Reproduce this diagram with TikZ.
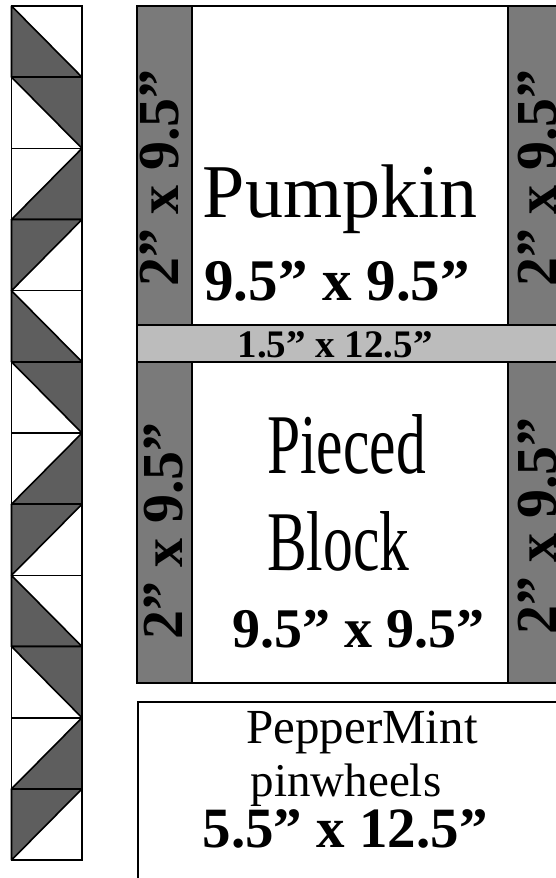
\documentclass[tikz,border=0pt]{standalone}
\usepackage{fontspec}
\setmainfont{Liberation Serif}
\definecolor{tri}{HTML}{5E5E5E}
\definecolor{strip}{HTML}{7A7A7A}
\definecolor{bar}{HTML}{BCBCBC}
\tikzset{
  edge/.style={draw=black, line width=1.6pt},
  sidetxt/.style={rotate=90, anchor=base, inner sep=0pt, font=\fontsize{58}{58}\selectfont\bfseries},
  lbl/.style={anchor=base, inner sep=0pt}
}
\begin{document}
\begin{tikzpicture}[x=1pt,y=-1pt]
\useasboundingbox (0,0) rectangle (556,878);
\fill[white] (0,0) rectangle (556,878);
% left strip of half-square triangles
\foreach \i in {0,...,11}{
  \pgfmathsetmacro{\t}{6+\i*71.17}
  \pgfmathsetmacro{\b}{6+(\i+1)*71.17}
  \pgfmathtruncatemacro{\k}{mod(\i,4)}
  \ifcase\k
    \filldraw[fill=tri, edge, line join=round] (11.5,\t) -- (11.5,\b) -- (82,\b) -- cycle;
  \or
    \filldraw[fill=tri, edge, line join=round] (11.5,\t) -- (82,\t) -- (82,\b) -- cycle;
  \or
    \filldraw[fill=tri, edge, line join=round] (11.5,\b) -- (82,\b) -- (82,\t) -- cycle;
  \or
    \filldraw[fill=tri, edge, line join=round] (11.5,\t) -- (82,\t) -- (11.5,\b) -- cycle;
  \fi
  \draw[edge] (11.5,\t) rectangle (82,\b);
}
% top block
\filldraw[fill=strip, edge] (137,6) rectangle (192,325);
\filldraw[fill=white, edge] (192,6) rectangle (508,325);
\filldraw[fill=strip, edge] (508,6) rectangle (575,325);
% sashing bar
\filldraw[fill=bar, edge] (137,325) rectangle (575,362);
% middle block
\filldraw[fill=strip, edge] (137,362) rectangle (192,683);
\filldraw[fill=white, edge] (192,362) rectangle (508,683);
\filldraw[fill=strip, edge] (508,362) rectangle (575,683);
% bottom block
\draw[edge] (138,890) -- (138,702) -- (575,702);
% texts
\node[lbl, font=\fontsize{76}{76}\selectfont] (pumpkin) at (340,217) {Pumpkin};
\node[lbl, font=\fontsize{59}{59}\selectfont\bfseries] (psize) at (337,300) {9.5” x 9.5”};
\node[sidetxt] (tl) at (178,178) {2” x 9.5”};
\node[sidetxt] (tr) at (556,178) {2” x 9.5”};
\node[lbl, font=\fontsize{39}{39}\selectfont\bfseries] (barlbl) at (335,357) {1.5” x 12.5”};
\node[anchor=base west, inner sep=0pt, font=\fontsize{85}{85}\selectfont] (pieced) at (267,473) {\scalebox{0.7}[1]{Pieced}};
\node[anchor=base west, inner sep=0pt, font=\fontsize{85}{85}\selectfont] (block) at (267,570) {\scalebox{0.7}[1]{Block}};
\node[lbl, font=\fontsize{56}{56}\selectfont\bfseries] (bsize) at (358,647) {9.5” x 9.5”};
\node[sidetxt] (ml) at (182,531) {2” x 9.5”};
\node[sidetxt] (mr) at (556,526) {2” x 9.5”};
\node[lbl, font=\fontsize{49}{49}\selectfont] (pep) at (362,743) {PepperMint};
\node[lbl, font=\fontsize{47}{47}\selectfont] (pin) at (346,796) {pinwheels};
\node[lbl, font=\fontsize{57}{57}\selectfont\bfseries] (psz) at (345,847) {5.5” x 12.5”};
\end{tikzpicture}
\end{document}
